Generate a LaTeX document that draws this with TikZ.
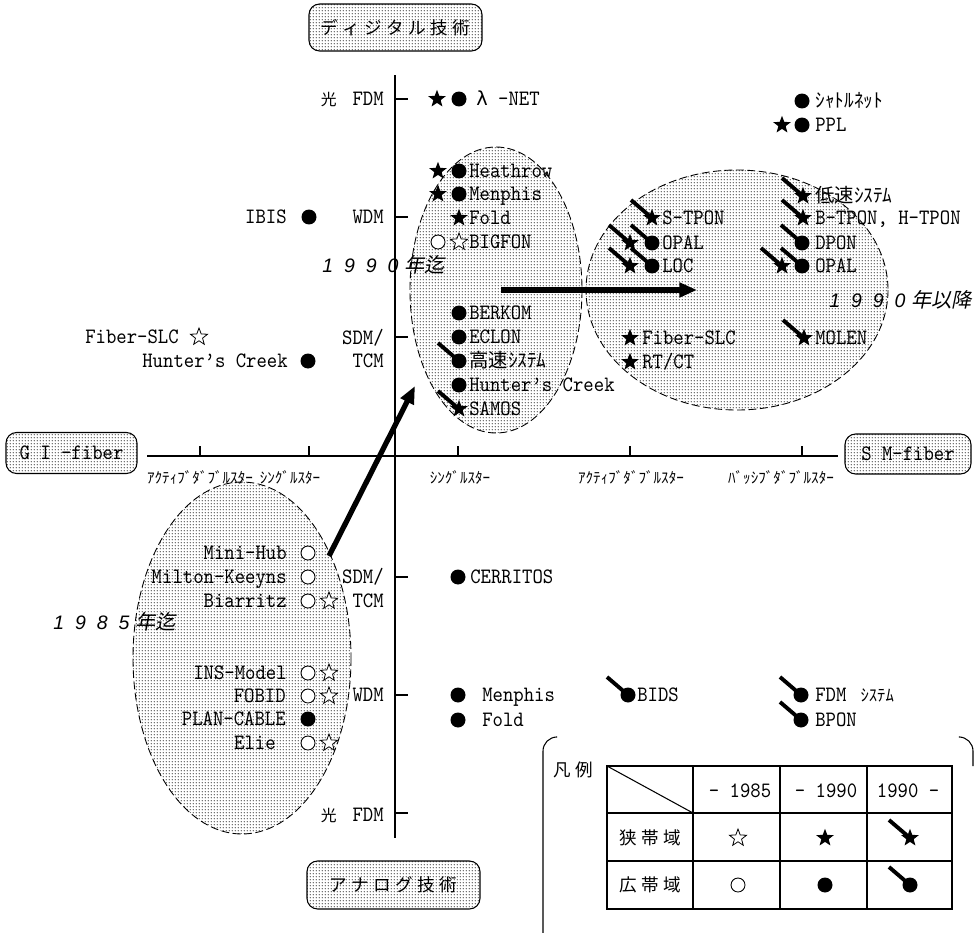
\documentclass[tikz,border=0pt]{standalone}
\usepackage{fontspec}
\usetikzlibrary{shapes.geometric,arrows.meta,patterns.meta}

% fonts
\newfontfamily\labfont{lmmono10-regular.otf}[FakeStretch=0.9]
\newfontfamily\jpfont{Noto Sans CJK JP}
\newfontfamily\jpslant{Noto Sans CJK JP}[FakeSlant=0.2]
\newfontfamily\yrfont{Liberation Sans}
\newfontfamily\grkfont{DejaVu Sans}

\newcommand\lf{\labfont\fontsize{12.5pt}{14pt}\selectfont}
\newcommand\kana{\jpfont\fontsize{11pt}{13pt}\selectfont}
\newcommand\kanasm{\jpfont\fontsize{9.5pt}{11pt}\selectfont}
\newcommand\axk{\jpfont\fontsize{8.6pt}{10pt}\selectfont}
\newcommand\boxjp{\jpfont\fontsize{10pt}{12pt}\selectfont}
\newcommand\gap{\hspace{2.5pt}}
\newcommand\yrgap{\hspace{6.2pt}}
\newcommand\yr{\yrfont\itshape\fontsize{11.1pt}{13pt}\selectfont}
\newcommand\yrjp{\jpslant\fontsize{11.5pt}{13pt}\selectfont}

% fine dot screen used for shaded areas
\tikzdeclarepattern{
  name=screentone,
  type=uncolored,
  bottom left={(0pt,0pt)},
  top right={(1.8pt,1.8pt)},
  tile size={(1.8pt,1.8pt)},
  code={\fill (0.9pt,0.9pt) circle [radius=0.5pt];}
}

\tikzset{
  fstar/.style={star, star points=5, star point ratio=2.4, fill=black, minimum size=0.37cm, inner sep=0pt},
  ostar/.style={star, star points=5, star point ratio=2.4, draw=black, fill=white, line width=0.45pt, minimum size=0.36cm, inner sep=0pt},
  fdot/.style={circle, fill=black, minimum size=0.3cm, inner sep=0pt},
  odot/.style={circle, draw=black, fill=white, line width=0.5pt, minimum size=0.28cm, inner sep=0pt},
  tailline/.style={line width=2.2pt},
  lbl/.style={anchor=west, inner sep=0pt, text height=7.6pt, text depth=0pt, font=\lf},
  lblr/.style={lbl, anchor=east},
  axlbl/.style={inner sep=0pt, font=\axk},
  tone/.style={pattern=screentone, pattern color=black!75},
  region/.style={dash pattern=on 4.5pt off 2pt, line width=0.5pt},
  tagbox/.style={draw, tone, rounded corners=6pt, line width=0.6pt, inner sep=0pt, font=\boxjp},
  axis/.style={line width=0.6pt},
  bigarrow/.style={line width=3pt, -{Triangle[length=10pt,width=8pt]}},
  yrlbl/.style={anchor=west, inner sep=0pt},
}

% symbol with a short thick tail pointing up-left
\newcommand\tailed[3]{%
  \coordinate (#1-c) at #3;
  \draw[tailline] (#1-c) -- ++(-21,-18);
  \node[#2] (#1) at (#1-c) {};}

\begin{document}
\begin{tikzpicture}[x=0.02cm, y=-0.02cm]
\useasboundingbox (0,0) rectangle (975,933);

% shaded regions
\fill[tone] (242,658) ellipse [x radius=109, y radius=176];
\fill[tone] (496,290) ellipse [x radius=86, y radius=143];
\fill[tone] (737,290) ellipse [x radius=151, y radius=120];
\draw[region] (242,658) ellipse [x radius=109, y radius=176];
\draw[region] (496,290) ellipse [x radius=86, y radius=143];
\draw[region] (737,290) ellipse [x radius=151, y radius=120];

% axes
\draw[axis] (395,75) -- (395,838);
\draw[axis] (147,456) -- (838,456);
\foreach \yy in {99,217,337,577,695,813} \draw[axis] (395,\yy) -- (408,\yy);
\foreach \xx in {200,309,458,630,802} \draw[axis] (\xx,456) -- (\xx,446);

% axis end boxes
\node[tagbox, minimum width=3.46cm, minimum height=0.94cm] (dig) at (395.5,27.5) {デ\gap ィ\gap ジ\gap タ\gap ル\gap 技\gap 術};
\node[tagbox, minimum width=3.46cm, minimum height=0.96cm] (ana) at (393.5,885) {ア\gap ナ\gap ロ\gap グ\gap 技\gap 術};
\node[tagbox, font=\lf, minimum width=2.62cm, minimum height=0.82cm] (gi) at (71.5,453) {G I -fiber};
\node[tagbox, font=\lf, minimum width=2.52cm, minimum height=0.8cm] (sm) at (908,454) {S M-fiber};

% horizontal axis categories
\node[axlbl] (hx1) at (200,478) {ｱｸﾃｨﾌﾞﾀﾞﾌﾞﾙｽﾀｰ};
\node[axlbl] (hx2) at (290,478) {ｼﾝｸﾞﾙｽﾀｰ};
\node[axlbl] (hx3) at (460,478) {ｼﾝｸﾞﾙｽﾀｰ};
\node[axlbl] (hx4) at (631,478) {ｱｸﾃｨﾌﾞﾀﾞﾌﾞﾙｽﾀｰ};
\node[axlbl] (hx5) at (781,478) {ﾊﾞｯｼﾌﾞﾀﾞﾌﾞﾙｽﾀｰ};

% vertical axis categories
\node[lblr] (vy1) at (384,99) {{\jpfont\fontsize{9pt}{11pt}\selectfont 光}\hspace{9pt}FDM};
\node[lblr] (vy2) at (384,217) {WDM};
\node[lblr] (vy3) at (384,338) {SDM/};
\node[lblr] (vy4) at (384,361) {TCM};
\node[lblr] (vy5) at (384,577) {SDM/};
\node[lblr] (vy6) at (384,601) {TCM};
\node[lblr] (vy7) at (384,695) {WDM};
\node[lblr] (vy8) at (384,815) {{\jpfont\fontsize{9pt}{11pt}\selectfont 光}\hspace{9pt}FDM};

% arrows between periods
\coordinate (arA) at (329,556);
\coordinate (arB) at (415,386);
\draw[bigarrow] (arA) -- (arB);
\coordinate (arC) at (501,290);
\coordinate (arD) at (697,290);
\draw[bigarrow] (arC) -- (arD);

% period labels
\node[yrlbl] (y90) at (322,265) {\yr 1\yrgap 9\yrgap 9\yrgap 0\hspace{3.5pt}{\yrjp 年迄}};
\node[yrlbl] (y85) at (53,622) {\yr 1\yrgap 9\yrgap 8\yrgap 5\hspace{3.5pt}{\yrjp 年迄}};
\node[yrlbl] (y90b) at (829,300) {\yr 1\yrgap 9\yrgap 9\yrgap 0\hspace{3.5pt}{\yrjp 年以降}};

% digital, single star
\node[fstar] (lnS) at (437,99) {};
\node[fdot] (lnD) at (459,99) {};
\node[lbl] (lnT) at (476,99) {{\grkfont\fontsize{11pt}{13pt}\selectfont λ} -NET};

\node[fstar] (heS) at (438,171) {};
\node[fdot] (heD) at (459,171) {};
\node[lbl] (heT) at (469,171) {Heathrow};
\node[fstar] (meS) at (438,194) {};
\node[fdot] (meD) at (459,194) {};
\node[lbl] (meT) at (469,194) {Menphis};
\node[fstar] (foS) at (459,218) {};
\node[lbl] (foT) at (469,218) {Fold};
\node[odot] (bgO) at (438,242) {};
\node[ostar] (bgS) at (459,242) {};
\node[lbl] (bgT) at (469,242) {BIGFON};
\node[fdot] (beD) at (459,313) {};
\node[lbl] (beT) at (469,313) {BERKOM};
\node[fdot] (ecD) at (459,337) {};
\node[lbl] (ecT) at (469,337) {ECLON};
\tailed{ksD}{fdot}{(459,361)}
\node[lbl] (ksT) at (469,361) {{\kana 高速ｼｽﾃﾑ}};
\node[fdot] (hcD) at (459,385) {};
\node[lbl] (hcT) at (469,385) {Hunter’s Creek};
\tailed{saS}{fstar}{(459,409)}
\node[lbl] (saT) at (469,409) {SAMOS};

% digital, double stars
\node[fdot] (shD) at (802,101) {};
\node[lbl] (shT) at (815,101) {{\kana ｼｬﾄﾙﾈｯﾄ}};
\node[fstar] (ppS) at (782,125) {};
\node[fdot] (ppD) at (802,125) {};
\node[lbl] (ppT) at (815,125) {PPL};

\tailed{lsS}{fstar}{(803,196)}
\node[lbl] (lsT) at (815,196) {{\kana 低速ｼｽﾃﾑ}};
\tailed{stS}{fstar}{(652,218)}
\node[lbl] (stT) at (662,218) {S-TPON};
\tailed{btS}{fstar}{(803,218)}
\node[lbl] (btT) at (815,218) {B-TPON, H-TPON};
\tailed{o1S}{fstar}{(630,243)}
\tailed{o1D}{fdot}{(652,243)}
\node[lbl] (o1T) at (662,243) {OPAL};
\tailed{dpD}{fdot}{(802,243)}
\node[lbl] (dpT) at (815,243) {DPON};
\tailed{loS}{fstar}{(630,266)}
\tailed{loD}{fdot}{(652,266)}
\node[lbl] (loT) at (662,266) {LOC};
\tailed{o2S}{fstar}{(782,266)}
\tailed{o2D}{fdot}{(802,266)}
\node[lbl] (o2T) at (815,266) {OPAL};
\node[fstar] (fsS) at (630,338) {};
\node[lbl] (fsT) at (642,338) {Fiber-SLC};
\node[fstar] (rtS) at (630,362) {};
\node[lbl] (rtT) at (642,362) {RT/CT};
\tailed{moS}{fstar}{(804,338)}
\node[lbl] (moT) at (815,338) {MOLEN};

% digital, graded-index side
\node[lblr] (ibT) at (287,217) {IBIS};
\node[fdot] (ibD) at (309,217) {};
\node[lblr] (gfT) at (179,337) {Fiber-SLC};
\node[ostar] (gfS) at (199,337) {};
\node[lblr] (ghT) at (288,361) {Hunter’s Creek};
\node[fdot] (ghD) at (308,361) {};

% analog, single mode
\node[fdot] (ceD) at (458,577) {};
\node[lbl] (ceT) at (470,577) {CERRITOS};
\node[fdot] (amD) at (458,695) {};
\node[lbl] (amT) at (482,695) {Menphis};
\node[fdot] (afD) at (458,720) {};
\node[lbl] (afT) at (482,720) {Fold};
\tailed{biD}{fdot}{(628,695)}
\node[lbl] (biT) at (637,695) {BIDS};
\tailed{fdD}{fdot}{(801,695)}
\node[lbl] (fdT) at (815,695) {FDM\hspace{8pt}{\kanasm ｼｽﾃﾑ}};
\tailed{bpD}{fdot}{(801,720)}
\node[lbl] (bpT) at (815,720) {BPON};

% analog, graded index
\node[lblr] (mhT) at (287,553) {Mini-Hub};
\node[odot] (mhO) at (308,553) {};
\node[lblr] (mkT) at (287,577) {Milton-Keeyns};
\node[odot] (mkO) at (308,577) {};
\node[lblr] (brT) at (287,601) {Biarritz};
\node[odot] (brO) at (308,601) {};
\node[ostar] (brS) at (329,601) {};
\node[lblr] (inT) at (287,673) {INS-Model};
\node[odot] (inO) at (308,673) {};
\node[ostar] (inS) at (329,673) {};
\node[lblr] (fbT) at (286,696) {FOBID};
\node[odot] (fbO) at (308,696) {};
\node[ostar] (fbS) at (329,696) {};
\node[lblr] (plT) at (286,719) {PLAN-CABLE};
\node[fdot] (plD) at (308,719) {};
\node[lblr] (elT) at (276,743) {Elie};
\node[odot] (elO) at (308,743) {};
\node[ostar] (elS) at (329,743) {};

% legend
\draw[axis, rounded corners=8] (556,737) -- (543,737) -- (543,933);
\draw[axis, rounded corners=8] (960,737) -- (973,737) -- (973,766);
\node[inner sep=0pt, font=\boxjp] (leg) at (573,770) {凡\gap 例};
\draw[axis] (607,766) rectangle (952,909);
\draw[axis] (607,813) -- (952,813);
\draw[axis] (607,861) -- (952,861);
\draw[axis] (693,766) -- (693,909);
\draw[axis] (780,766) -- (780,909);
\draw[axis] (867,766) -- (867,909);
\draw[axis] (607,766) -- (693,813);
\node[lbl, anchor=center] (h1) at (740,791) {- 1985};
\node[lbl, anchor=center] (h2) at (826,791) {- 1990};
\node[lbl, anchor=center] (h3) at (908,791) {1990 -};
\node[inner sep=0pt, font=\boxjp] (rn) at (650,838) {狭\gap 帯\gap 域};
\node[inner sep=0pt, font=\boxjp] (rw) at (650,885) {広\gap 帯\gap 域};
\node[ostar] (lg1) at (738,838) {};
\node[fstar] (lg2) at (825,838) {};
\tailed{lg3}{fstar}{(910,838)}
\node[odot] (lg4) at (738,885) {};
\node[fdot] (lg5) at (825,885) {};
\tailed{lg6}{fdot}{(910,885)}
\end{tikzpicture}
\end{document}
